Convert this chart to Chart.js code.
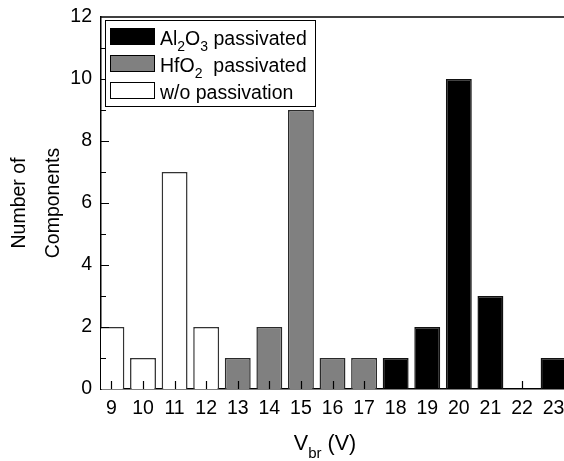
<!DOCTYPE html>
<html>
<head>
<meta charset="utf-8">
<script src="https://cdn.jsdelivr.net/npm/chart.js@4.4.1/dist/chart.umd.min.js"></script>
<style>
  html, body { margin: 0; padding: 0; background: #fff; }
  #wrap { width: 564px; height: 461px; }
</style>
</head>
<body>
<div id="wrap"><canvas id="chart" width="564" height="461"></canvas></div>
<script>
"use strict";

// Data
const voltages = [9, 10, 11, 12, 13, 14, 15, 16, 17, 18, 19, 20, 21, 22, 23];
const al2o3Counts = [null, null, null, null, null, null, null, null, null, 1, 2, 10, 3, 0, 1];
const hfo2Counts = [null, null, null, null, 1, 2, 9, 1, 1, null, null, null, null, null, null];
const noPassCounts = [2, 1, 7, 2, null, null, null, null, null, null, null, null, null, null, null];

const seriesLabels = ["Al_2O_3 passivated", "HfO_2  passivated", "w/o passivation"];
const xTickValues = voltages;
const yTickValues = [0, 2, 4, 6, 8, 10, 12];
const xTitle = "V_{br} (V)";
const yTitle = ["Number of", "Components"];

const FONT = "Arial, 'Liberation Sans', sans-serif";
const FONT_SIZE = 19.5;

// "_x" or "_{xx}" marks a subscript
function richParts(text) {
  const parts = [];
  const re = /_(\{[^}]*\}|.)/g;
  let last = 0;
  let m;
  while ((m = re.exec(text))) {
    if (m.index > last) parts.push({ t: text.slice(last, m.index), sub: false });
    let s = m[1];
    if (s[0] === "{") s = s.slice(1, -1);
    parts.push({ t: s, sub: true });
    last = re.lastIndex;
  }
  if (last < text.length) parts.push({ t: text.slice(last), sub: false });
  return parts;
}

function richWidth(ctx, parts, size, subSize) {
  let w = 0;
  for (const p of parts) {
    ctx.font = `${p.sub ? subSize : size}px ${FONT}`;
    w += ctx.measureText(p.t).width;
  }
  return w;
}

function drawRich(ctx, parts, x, y, size, subSize, shift) {
  ctx.textAlign = "left";
  ctx.textBaseline = "alphabetic";
  for (const p of parts) {
    ctx.font = `${p.sub ? subSize : size}px ${FONT}`;
    ctx.fillText(p.t, x, p.sub ? y + shift : y);
    x += ctx.measureText(p.t).width;
  }
}

function toPoints(values) {
  return voltages.map((v, i) => ({ x: v, y: values[i] }));
}

// inward ticks, top frame line, legend and x title
const decorPlugin = {
  id: "decor",
  afterDraw(chart) {
    const { ctx, chartArea, scales } = chart;
    const { left, right, top, bottom } = chartArea;
    ctx.save();
    ctx.strokeStyle = "#000";
    ctx.lineWidth = 1.5;

    ctx.beginPath();
    ctx.moveTo(left, top);
    ctx.lineTo(right, top);
    ctx.stroke();

    ctx.lineWidth = 1.2;
    ctx.beginPath();
    for (let v = scales.y.min + 1; v < scales.y.max; v += 1) {
      const py = Math.round(scales.y.getPixelForValue(v)) + 0.5;
      const len = v % 2 === 0 ? 8 : 5;
      ctx.moveTo(left, py);
      ctx.lineTo(left + len, py);
    }
    for (const v of xTickValues) {
      const px = Math.round(scales.x.getPixelForValue(v)) + 0.5;
      ctx.moveTo(px, bottom);
      ctx.lineTo(px, bottom - 8);
    }
    ctx.stroke();

    // legend
    const bx = left + 4, by = top + 3, bw = 210, bh = 86;
    ctx.fillStyle = "#fff";
    ctx.fillRect(bx, by, bw, bh);
    ctx.lineWidth = 1;
    ctx.strokeStyle = "#000";
    ctx.strokeRect(bx + 0.5, by + 0.5, bw, bh);
    chart.data.datasets.forEach((ds, i) => {
      const sy = by + 8 + i * 27;
      ctx.fillStyle = ds.backgroundColor;
      ctx.fillRect(bx + 5, sy, 45, 17);
      ctx.strokeStyle = "#000";
      ctx.lineWidth = 1;
      ctx.strokeRect(bx + 5.5, sy + 0.5, 44, 16);
      ctx.fillStyle = "#000";
      drawRich(ctx, richParts(ds.label), bx + 55, sy + 16.5, FONT_SIZE, 14, 6);
    });

    // x axis title
    const parts = richParts(xTitle);
    const w = richWidth(ctx, parts, 21.5, 15);
    ctx.fillStyle = "#000";
    drawRich(ctx, parts, 325 - w / 2, 450, 21.5, 15, 7.5);
    ctx.restore();
  }
};

const barCommon = {
  borderWidth: 1.5,
  borderSkipped: "start",
  barPercentage: 0.82,
  categoryPercentage: 1,
  grouped: false,
  clip: 0
};

new Chart(document.getElementById("chart"), {
  type: "bar",
  data: {
    datasets: [
      Object.assign({ label: seriesLabels[0], data: toPoints(al2o3Counts),
        backgroundColor: "#000000", borderColor: "#111111" }, barCommon),
      Object.assign({ label: seriesLabels[1], data: toPoints(hfo2Counts),
        backgroundColor: "#808080", borderColor: "#2a2a2a" }, barCommon),
      Object.assign({ label: seriesLabels[2], data: toPoints(noPassCounts),
        backgroundColor: "#ffffff", borderColor: "#333333" }, barCommon)
    ]
  },
  options: {
    responsive: false,
    animation: false,
    devicePixelRatio: 1,
    layout: { padding: { top: 17, right: 0, left: 0, bottom: 0 } },
    plugins: {
      legend: { display: false },
      tooltip: { enabled: false }
    },
    scales: {
      x: {
        type: "linear",
        offset: false,
        min: 8.67,
        max: 23.33,
        grid: { display: false, drawTicks: false, tickLength: 0, offset: false },
        border: { display: true, color: "#000", width: 1.5 },
        ticks: {
          color: "#000",
          padding: 8,
          font: { family: FONT, size: FONT_SIZE },
          maxRotation: 0,
          autoSkip: false
        },
        afterBuildTicks(scale) {
          scale.ticks = xTickValues.map((v) => ({ value: v }));
        },
        afterFit(scale) {
          scale.height = 72;
          scale.paddingLeft = 0;
          scale.paddingRight = 0;
        }
      },
      y: {
        min: 0,
        max: 12,
        grid: { display: false, drawTicks: false, tickLength: 0 },
        border: { display: true, color: "#000", width: 1.5 },
        ticks: {
          color: "#000",
          padding: 9,
          font: { family: FONT, size: FONT_SIZE }
        },
        title: {
          display: true,
          text: yTitle,
          color: "#000",
          font: { family: FONT, size: FONT_SIZE, lineHeight: 34 / FONT_SIZE },
          padding: { top: 3, bottom: 0 }
        },
        afterBuildTicks(scale) {
          scale.ticks = yTickValues.map((v) => ({ value: v }));
        },
        afterFit(scale) {
          scale.width = 101;
          scale.paddingTop = 0;
          scale.paddingBottom = 0;
        }
      }
    }
  },
  plugins: [decorPlugin]
});
</script>
</body>
</html>
